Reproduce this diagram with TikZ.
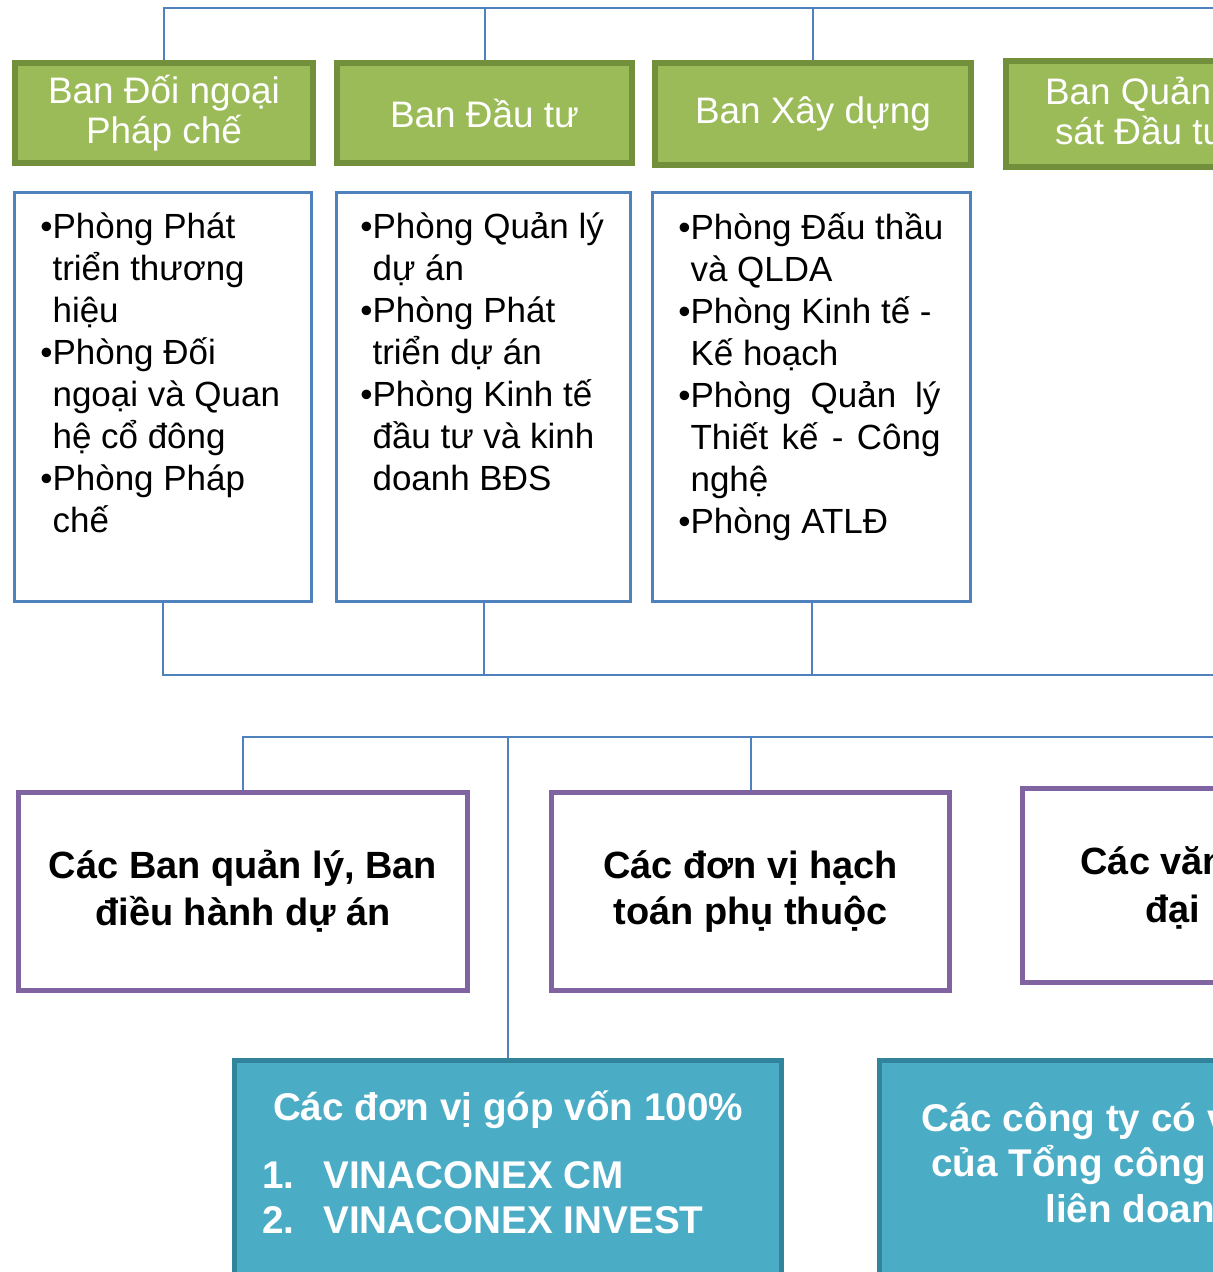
\documentclass[tikz,border=0pt]{standalone}
\usepackage{fontspec}
\setmainfont{Liberation Sans}
\definecolor{bangreen}{HTML}{9BBB59}
\definecolor{bandark}{HTML}{72903C}
\definecolor{phongblue}{HTML}{4F81BD}
\definecolor{donvipurple}{HTML}{8064A2}
\definecolor{congtyteal}{HTML}{4BACC6}
\definecolor{congtydark}{HTML}{31849B}
\newcommand{\tiep}{\hphantom{•}}
\begin{document}
\begin{tikzpicture}[x=0.02cm, y=-0.02cm,
  ban/.style={draw=bandark, fill=bangreen, line width=0.12cm, text=white, align=center, inner sep=0pt, font=\fontsize{21}{22.8}\selectfont},
  phong/.style={draw=phongblue, fill=white, line width=0.06cm, inner sep=0pt},
  phongtext/.style={anchor=north west, align=left, inner sep=0pt, font=\fontsize{19.9}{23.9}\selectfont},
  donvi/.style={draw=donvipurple, fill=white, line width=0.1cm, align=center, inner sep=0pt, font=\bfseries\fontsize{21.6}{26.7}\selectfont},
  congty/.style={draw=congtydark, fill=congtyteal, line width=0.1cm, inner sep=0pt},
  congtytext/.style={text=white, align=left, inner sep=0pt, font=\bfseries\fontsize{22}{26}\selectfont},
  tuyen/.style={draw=phongblue, line width=0.04cm}]
\useasboundingbox (0,0) rectangle (1213,1272);
\fill[white] (0,0) rectangle (1213,1272);
\clip (0,0) rectangle (1213,1272);

\node (g1) [ban, minimum width=5.96cm, minimum height=2cm] at (164,113) {Ban Đối ngoại\\Pháp chế};
\node (g2) [ban, minimum width=5.9cm, minimum height=2cm] at (484.5,113) {Ban Đầu tư};
\node (g3) [ban, minimum width=6.32cm, minimum height=2.04cm] at (813,114) {Ban Xây dựng};
\node (g4) [ban, minimum width=6.32cm, minimum height=2.12cm] at (1164,114) {};
\node (g4t) [ban, draw=none, fill=none, anchor=north west, align=left] at (1042,74) {Ban Quản\\\hspace*{0.2cm}sát Đầu tư};

\node (b1) [phong, minimum width=5.94cm, minimum height=8.18cm] at (163,397) {};
\node (b2) [phong, minimum width=5.88cm, minimum height=8.18cm] at (483.5,397) {};
\node (b3) [phong, minimum width=6.36cm, minimum height=8.18cm] at (811.5,397) {};
\node (b1t) [phongtext] at (40,212) {•Phòng Phát\\\tiep triển thương\\\tiep hiệu\\•Phòng Đối\\\tiep ngoại và Quan\\\tiep hệ cổ đông\\•Phòng Pháp\\\tiep chế};
\node (b2t) [phongtext] at (360,212) {•Phòng Quản lý\\\tiep dự án\\•Phòng Phát\\\tiep triển dự án\\•Phòng Kinh tế\\\tiep đầu tư và kinh\\\tiep doanh BĐS};
\node (b3t) [phongtext] at (678,212) {•Phòng Đấu thầu\\\tiep và QLDA\\•Phòng Kinh tế -\\\tiep Kế hoạch\\•\makebox[5cm][s]{Phòng Quản lý}\\\tiep\makebox[5cm][s]{Thiết kế - Công}\\\tiep nghệ\\•Phòng ATLĐ};

\node (p1) [donvi, minimum width=8.98cm, minimum height=3.96cm] at (243,891.5) {Các Ban quản lý, Ban\\điều hành dự án};
\node (p2) [donvi, minimum width=7.96cm, minimum height=3.96cm] at (750.5,891.5) {Các đơn vị hạch\\toán phụ thuộc};
\node (p3) [donvi, minimum width=8cm, minimum height=3.88cm] at (1222.5,885.5) {};
\node (p3t) [donvi, draw=none, fill=none, anchor=north west, align=left, font=\bfseries\fontsize{21.6}{27.3}\selectfont] at (1078,844) {Các văn\\\hspace*{1.3cm}đại};

\node (t1) [congty, minimum width=10.94cm, minimum height=5.19cm] at (508,1190) {};
\node (t2) [congty, minimum width=10.94cm, minimum height=5.19cm] at (1153,1190) {};
\node (t1head) [congtytext] at (508,1110) {Các đơn vị góp vốn 100\%};
\node (t1list) [congtytext, anchor=north west, font=\bfseries\fontsize{22}{25.6}\selectfont] at (262,1161) {\makebox[1.22cm][l]{1.}VINACONEX CM\\\makebox[1.22cm][l]{2.}VINACONEX INVEST};
\node (t2t) [congtytext, anchor=north west] at (921,1102) {Các công ty có v\\\hspace*{0.2cm}của Tổng công\\\hspace*{2.48cm}liên doan};

\coordinate (busA) at (1300,8);
\coordinate (busB) at (1300,675);
\coordinate (busC) at (1300,737);
\draw [tuyen] (g1.north) |- (busA);
\draw [tuyen] (g2.north) -- (g2.north |- busA);
\draw [tuyen] (g3.north) -- (g3.north |- busA);
\draw [tuyen] (b1.south) |- (busB);
\draw [tuyen] (b2.south) -- (b2.south |- busB);
\draw [tuyen] (b3.south) -- (b3.south |- busB);
\draw [tuyen] (p1.north) |- (busC);
\draw [tuyen] (t1.north) -- (t1.north |- busC);
\draw [tuyen] (p2.north) -- (p2.north |- busC);
\end{tikzpicture}
\end{document}
